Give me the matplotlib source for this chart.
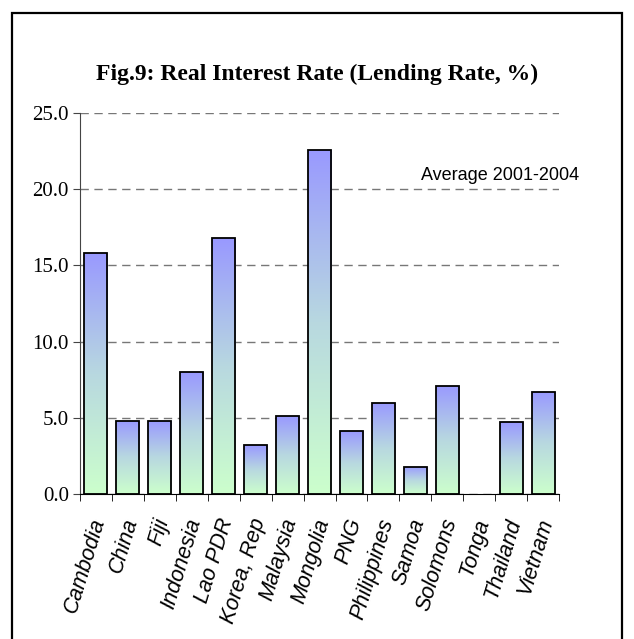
import numpy as np
import matplotlib.pyplot as plt
from matplotlib.colors import LinearSegmentedColormap
from matplotlib.patches import Rectangle

# data
countries = ['Cambodia', 'China', 'Fiji', 'Indonesia', 'Lao PDR', 'Korea, Rep',
             'Malaysia', 'Mongolia', 'PNG', 'Philippines', 'Samoa', 'Solomons',
             'Tonga', 'Thailand', 'Vietnam']
rates = [15.8, 4.8, 4.8, 8.0, 16.8, 3.2, 5.1, 22.6, 4.1, 6.0, 1.8, 7.1, 0.0, 4.7, 6.7]
yticks = [0, 5, 10, 15, 20, 25]

fig = plt.figure(figsize=(6.34, 6.39), dpi=100)
ax = fig.add_axes([0.126, 0.227, 0.756, 0.596])

# outer frame of the chart area
fig.patches.append(Rectangle((12 / 634, -0.05), 610 / 634, 1 - 13 / 639 + 0.05,
                             transform=fig.transFigure, fill=False,
                             edgecolor='black', linewidth=1.6))

cmap = LinearSegmentedColormap.from_list('grad', ['#ccffcc', '#b8d8e0', '#9999ff'])
grad = np.linspace(0, 1, 256).reshape(-1, 1)

x = np.arange(len(countries))
w = 0.72
bars = ax.bar(x, rates, width=w, facecolor='none', edgecolor='black',
              linewidth=1.3, zorder=3)
for b, v in zip(bars, rates):
    if v <= 0:
        b.set_visible(False)  # Tonga: no bar drawn
        continue
    im = ax.imshow(grad, cmap=cmap, origin='lower', aspect='auto',
                   extent=[b.get_x(), b.get_x() + w, 0, v], zorder=2)
    im.set_clip_path(b)

ax.set_xlim(-0.5, len(countries) - 0.5)
ax.set_ylim(0, 25)
ax.set_yticks(yticks)
ax.set_yticklabels(['%.1f' % t for t in yticks], family='Liberation Serif', fontsize=15)
ax.yaxis.grid(True, color='#777777', linestyle=(0, (6, 4)), linewidth=1.0, zorder=0)

ax.set_xticks(x + 0.12)
ax.set_xticklabels(countries, rotation=73, ha='right', va='center', rotation_mode='anchor',
                   family='Liberation Sans', style='italic', fontsize=15.5)
ax.set_xticks(np.arange(-0.5, len(countries)), minor=True)
ax.tick_params(axis='x', which='major', length=0, pad=18)
ax.tick_params(axis='x', which='minor', length=5, direction='out', color='black')
ax.tick_params(axis='y', length=5, direction='out', color='#444444', pad=3)

for s in ['top', 'right']:
    ax.spines[s].set_visible(False)
ax.spines['left'].set_color('#444444')
ax.spines['bottom'].set_color('black')

ax.text(0.877, 0.837, 'Average 2001-2004', transform=ax.transAxes, ha='center',
        va='center', family='Liberation Sans', fontsize=13)

fig.text(0.5, 0.883, 'Fig.9: Real Interest Rate (Lending Rate, %)', ha='center',
         va='center', family='Liberation Serif', weight='bold', fontsize=17)

fig.savefig('out.png', dpi=100)
